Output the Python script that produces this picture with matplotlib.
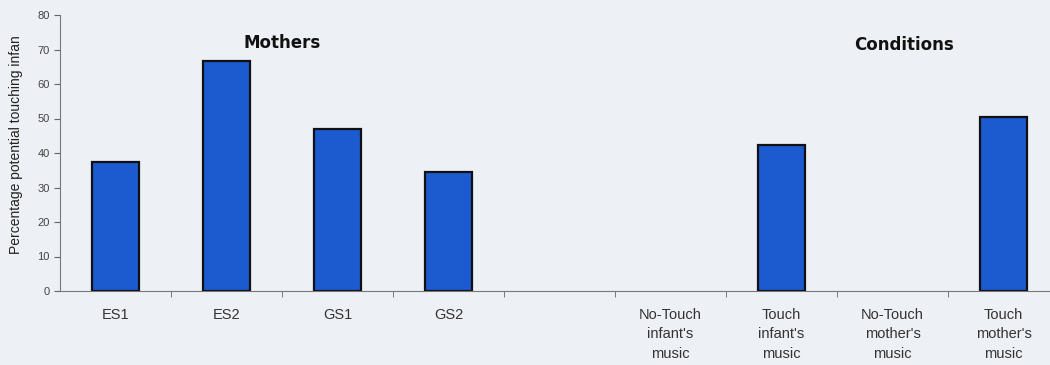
import matplotlib.pyplot as plt
import numpy as np

plt.rcParams['font.family'] = ['Liberation Sans', 'DejaVu Sans']

labels = ['ES1', 'ES2', 'GS1', 'GS2', '',
          "No-Touch\ninfant's\nmusic", "Touch\ninfant's\nmusic",
          "No-Touch\nmother's\nmusic", "Touch\nmother's\nmusic"]
values = [37.3, 66.8, 47.0, 34.5, np.nan, np.nan, 42.3, np.nan, 50.5]

bg = '#edf0f4'
fig = plt.figure(figsize=(10.5, 3.65), dpi=100, facecolor=bg)
ax = fig.add_axes([60 / 1050, 74 / 365, 999 / 1050, 276 / 365])
ax.set_facecolor(bg)

x = np.arange(len(labels))
ax.bar(x, values, width=0.42, color='#1c5ad0', edgecolor='#111111', linewidth=1.6)

ax.set_xlim(-0.5, 8.5)
ax.set_ylim(0, 80)
ax.set_yticks(range(0, 81, 10))
ax.tick_params(axis='y', labelsize=8, colors='#666666', labelcolor='#444444', length=4)
ax.set_xticks(x)
ax.set_xticklabels(labels, fontsize=10.5, color='#333333', linespacing=1.5)
ax.tick_params(axis='x', which='major', length=0, pad=12)
ax.set_xticks(np.arange(0.5, 8.5, 1), minor=True)
ax.tick_params(axis='x', which='minor', length=4, color='#666666')

for s in ['top', 'right']:
    ax.spines[s].set_visible(False)
for s in ['left', 'bottom']:
    ax.spines[s].set_color('#777777')

ax.set_ylabel('Percentage potential touching infan', fontsize=10, color='#222222')
ax.yaxis.set_label_coords(-0.037, 0.53)

ax.text(1.5, 72.0, 'Mothers', fontsize=12, fontweight='bold', ha='center', va='center',
        color='#111111', family='DejaVu Sans')
ax.text(7.1, 71.3, 'Conditions', fontsize=12, fontweight='bold', ha='center', va='center',
        color='#111111', family='DejaVu Sans')

fig.savefig('out.png', dpi=100, facecolor=bg)
